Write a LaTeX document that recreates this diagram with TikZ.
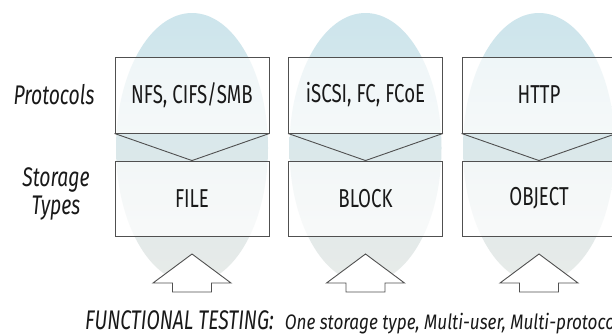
\documentclass[tikz,border=0pt]{standalone}
\usepackage{fontspec}
\setmainfont{Fira Sans}[FakeStretch=0.72]
\newfontfamily\wideish{Fira Sans}[FakeStretch=0.82]
\usetikzlibrary{fadings}
\definecolor{ellA}{RGB}{205,229,236}
\definecolor{ellB}{RGB}{190,222,231}
\definecolor{ellC}{RGB}{232,235,233}
\definecolor{edge}{RGB}{80,80,80}
\definecolor{ink}{RGB}{25,25,25}
\tikzfading[name=boxfade, top color=transparent!35, middle color=transparent!85, bottom color=transparent!25]
\tikzset{
  boxp/.style={draw=edge, line width=0.9bp, minimum width=154bp, minimum height=76bp, inner sep=0pt,
    font=\fontsize{26}{28}\selectfont, text=ink},
  boxs/.style={draw=edge, line width=0.9bp, minimum width=154bp, minimum height=75bp, inner sep=0pt,
    font=\fontsize{26}{28}\selectfont, text=ink},
  chev/.style={draw=edge, line width=0.9bp},
  uparrow/.style={draw=edge, line width=0.9bp, fill=white},
  side/.style={font=\fontsize{27}{28}\selectfont\itshape, text=ink, align=center, inner sep=0pt},
}
\begin{document}
\begin{tikzpicture}[x=1bp,y=-1bp]
\useasboundingbox (0,0) rectangle (612,335);
\clip (0,0) rectangle (612,335);
\fill[white] (0,0) rectangle (612,335);
\foreach \i/\cx/\ptxt/\stxt in {1/192/{NFS, CIFS/SMB}/FILE, 2/365.5/{iSCSI, FC, FCoE}/BLOCK, 3/539/HTTP/OBJECT}{
  \shade[top color=ellA, middle color=ellB, bottom color=ellC] (\cx,148) ellipse [x radius=76, y radius=135];
  \node[boxp] (p\i) at (\cx,95) {};
  \fill[white, path fading=boxfade] (p\i.north west) rectangle (p\i.south east);
  \node[boxp] at (p\i) {\ptxt};
  \node[boxs] (s\i) at (\cx,198.5) {};
  \fill[white, path fading=boxfade] (s\i.north west) rectangle (s\i.south east);
  \node[boxs] at (s\i) {\stxt};
  \draw[chev] (p\i.south west) -- (s\i.north) -- (p\i.south east);
  \coordinate (a\i) at (\cx,254);
  \draw[uparrow] (a\i) -- ++(39,29) -- ++(-19.5,0) -- ++(0,9) -- ++(-39,0) -- ++(0,-9) -- ++(-19.5,0) -- cycle;
}
\node[side] (proto) at (54,95) {Protocols};
\node[side] (stype) at (56,194) {Storage\\Types};
\node[anchor=base west, inner sep=0pt, text=ink] (ft) at (85,329)
  {{\fontsize{27}{28}\selectfont\itshape FUNCTIONAL TESTING:}\hspace{11bp}{\wideish\fontsize{21}{21}\selectfont\itshape One storage type, Multi-user, Multi-protocol}};
\end{tikzpicture}
\end{document}
